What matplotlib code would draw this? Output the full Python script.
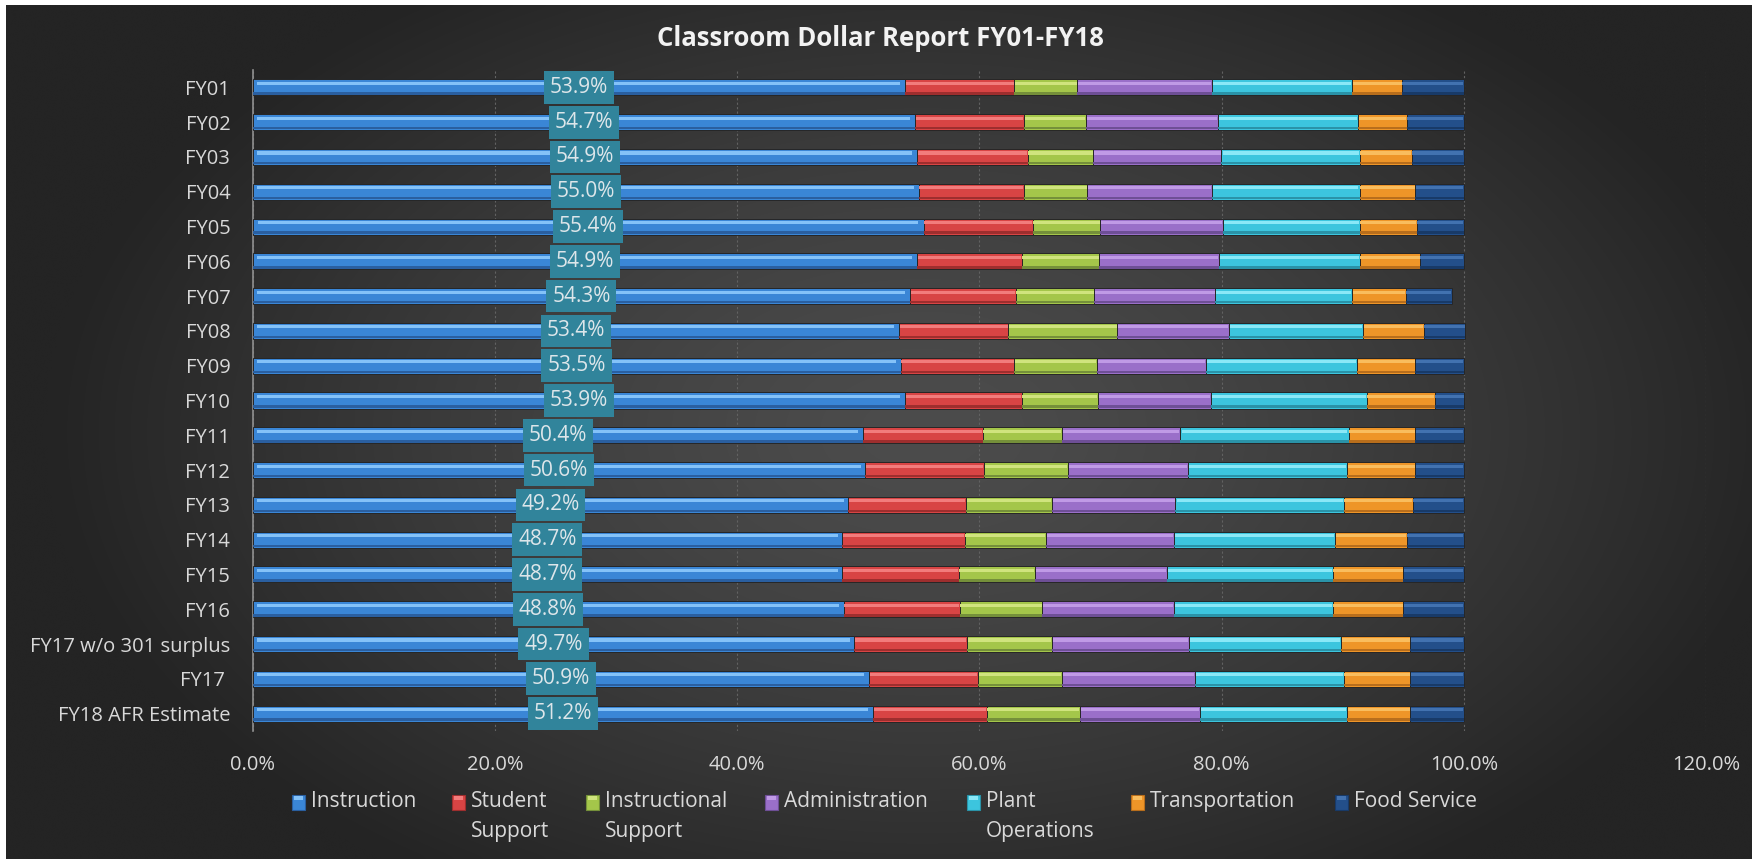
import matplotlib
matplotlib.use("Agg")
import matplotlib.pyplot as plt
import numpy as np
from matplotlib.patches import Rectangle
from matplotlib.ticker import FuncFormatter

plt.rcParams['font.family'] = ['Open Sans', 'DejaVu Sans']

# --- data (percent of total spending) ---
years = ['FY01', 'FY02', 'FY03', 'FY04', 'FY05', 'FY06', 'FY07', 'FY08', 'FY09',
         'FY10', 'FY11', 'FY12', 'FY13', 'FY14', 'FY15', 'FY16',
         'FY17 w/o 301 surplus', 'FY17 ', 'FY18 AFR Estimate']

instruction = [53.9, 54.7, 54.9, 55.0, 55.4, 54.9, 54.3, 53.4, 53.5, 53.9,
               50.4, 50.6, 49.2, 48.7, 48.7, 48.8, 49.7, 50.9, 51.2]
student_support = [9.0, 9.0, 9.1, 8.7, 9.0, 8.6, 8.7, 9.0, 9.4, 9.6,
                   9.9, 9.8, 9.7, 10.1, 9.6, 9.6, 9.3, 9.0, 9.4]
instr_support = [5.2, 5.1, 5.4, 5.2, 5.6, 6.4, 6.5, 9.0, 6.8, 6.3,
                 6.5, 6.9, 7.1, 6.7, 6.3, 6.8, 7.0, 6.9, 7.7]
administration = [11.1, 10.9, 10.6, 10.3, 10.1, 9.9, 10.0, 9.2, 9.0, 9.3,
                  9.8, 9.9, 10.2, 10.6, 10.9, 10.9, 11.3, 11.0, 9.9]
plant_ops = [11.6, 11.6, 11.4, 12.2, 11.3, 11.6, 11.3, 11.1, 12.5, 12.9,
             13.9, 13.2, 13.9, 13.3, 13.7, 13.1, 12.6, 12.3, 12.2]
transportation = [4.1, 4.0, 4.3, 4.6, 4.7, 5.0, 4.4, 5.0, 4.8, 5.6,
                  5.5, 5.6, 5.7, 5.9, 5.8, 5.8, 5.7, 5.5, 5.2]
food_service = [5.1, 4.7, 4.3, 4.0, 3.9, 3.6, 3.8, 3.4, 4.0, 2.4,
                4.0, 4.0, 4.2, 4.7, 5.0, 5.0, 4.4, 4.4, 4.4]

series_names = ['Instruction', 'Student\nSupport', 'Instructional\nSupport',
                'Administration', 'Plant\nOperations', 'Transportation', 'Food Service']
series = [instruction, student_support, instr_support, administration,
          plant_ops, transportation, food_service]

# (mid, highlight, shade)
colors = [('#3a86d6', '#84c2f8', '#2a5fa0'),
          ('#d84444', '#f27c7c', '#9e2e2e'),
          ('#a4c64a', '#d0e47e', '#75903a'),
          ('#9a6fc9', '#c09ae6', '#6e4f96'),
          ('#3cc5de', '#8ae8f7', '#2a93a8'),
          ('#ee9528', '#f9bd5e', '#b86e1c'),
          ('#234f8a', '#4272b0', '#183a68')]

W, H = 1752, 859
fig = plt.figure(figsize=(W / 100, H / 100), dpi=100, facecolor='white')

# dark radial background with a thin white margin top/left
bg = fig.add_axes([6 / W, 0, 1 - 6 / W, 1 - 5 / H], zorder=-10)
gx, gy = np.meshgrid(np.linspace(-1, 1, 400), np.linspace(-1, 1, 200))
r = np.sqrt(((gx - 0.05) / 1.0) ** 2 + (gy / 1.25) ** 2)
shade = 0x4c - (0x4c - 0x24) * np.clip(r, 0, 1) ** 1.4
img = np.dstack([shade, shade, shade]) / 255.0
bg.imshow(img, aspect='auto', extent=[0, 1, 0, 1], interpolation='bicubic')
bg.axis('off')

ax = fig.add_axes([252.5 / W, 1 - 731 / H, 1453.5 / W, 661 / H])
ax.set_facecolor('none')

y = np.arange(len(years))
h = 0.46
left = np.zeros(len(years))
for vals, (mid, light, dark) in zip(series, colors):
    v = np.array(vals) / 100.0
    ax.barh(y, v, left=left, height=h, color=mid, edgecolor='#262626', linewidth=0.7, zorder=3)
    ax.barh(y - 0.115, v * 0.985, left=left + v * 0.0075, height=0.09, color=light,
            linewidth=0, zorder=4)
    ax.barh(y + 0.175, v, left=left, height=0.07, color=dark, linewidth=0, zorder=4)
    left += v

# data labels on Instruction
for yi, val in zip(y, instruction):
    ax.text(val / 200.0, yi, f'{val:.1f}%', ha='center', va='center',
            fontsize=15, color='#dde6ea', zorder=6,
            bbox=dict(boxstyle='square,pad=0.28', fc='#31849b', ec='none'))

ax.set_xlim(0, 1.2)
ax.set_ylim(len(years) - 0.5, -0.5)
ax.set_xticks(np.arange(0, 1.21, 0.2))
ax.xaxis.set_major_formatter(FuncFormatter(lambda v, p: f'{v * 100:.1f}%'))
ax.set_yticks(y)
ax.set_yticklabels(years)
ax.tick_params(axis='x', length=0, pad=17, labelsize=14.5, labelcolor='#d9d9d9')
ax.tick_params(axis='y', length=0, pad=16, labelsize=14.5, labelcolor='#d9d9d9')
ax.grid(axis='x', color='#626262', linestyle=(0, (2, 2)), linewidth=0.8, zorder=0)
for s in ['top', 'right', 'bottom']:
    ax.spines[s].set_visible(False)
ax.spines['left'].set_color('#8f8f8f')
ax.spines['left'].set_linewidth(1.2)

fig.text(880 / W, 1 - 38 / H, 'Classroom Dollar Report FY01-FY18', ha='center', va='center',
         fontsize=18.5, fontweight='bold', color='#f2f2f2')

# legend
marker_x = [292, 452, 586, 765, 967, 1131, 1335]
for mx, name, (mid, light, dark) in zip(marker_x, series_names, colors):
    fig.patches.append(Rectangle((mx / W, 1 - 810 / H), 13 / W, 15 / H, transform=fig.transFigure,
                                 facecolor=mid, edgecolor=dark, linewidth=0.8))
    fig.patches.append(Rectangle(((mx + 2) / W, 1 - 800 / H), 9 / W, 4 / H, transform=fig.transFigure,
                                 facecolor=light, linewidth=0))
    fig.text((mx + 19) / W, 1 - 791 / H, name, ha='left', va='top', fontsize=15,
             color='#d9d9d9', linespacing=1.55)

fig.savefig('out.png', dpi=100, facecolor='white')
